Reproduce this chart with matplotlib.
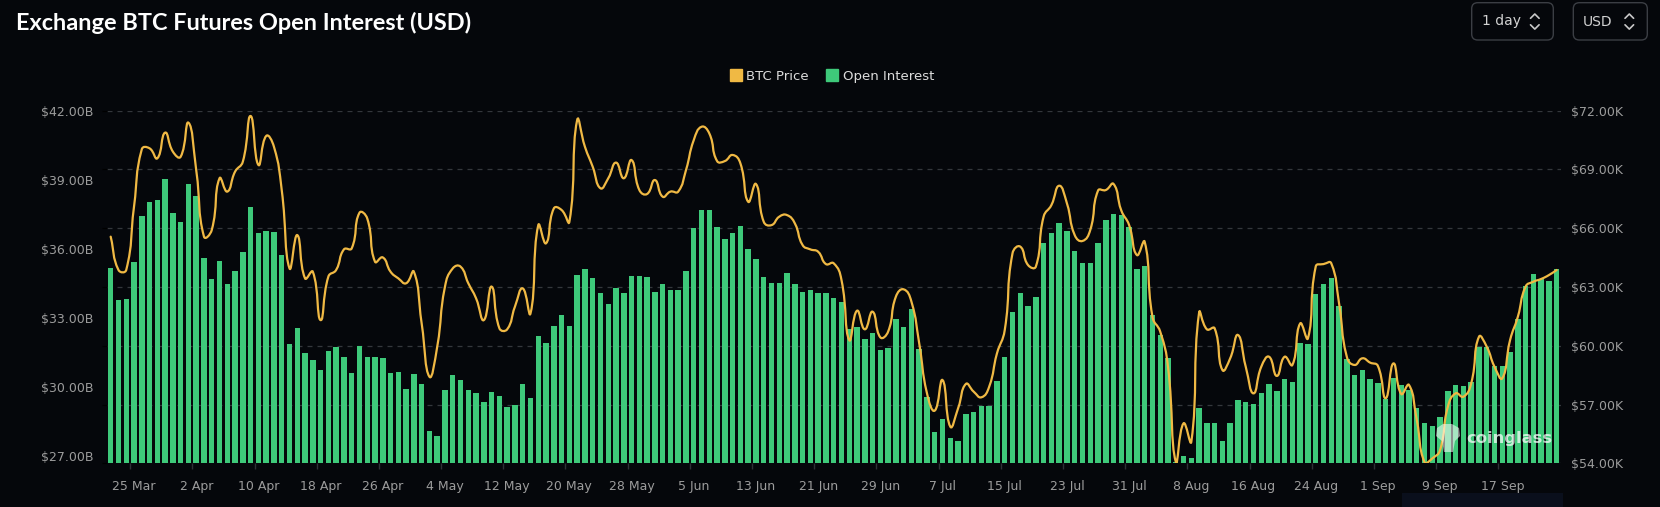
import numpy as np
import pandas as pd
import matplotlib
matplotlib.use("Agg")
import matplotlib.pyplot as plt
from matplotlib.path import Path
from matplotlib.patches import PathPatch, FancyBboxPatch, Rectangle, Polygon
from matplotlib.lines import Line2D
from matplotlib.ticker import FuncFormatter, FixedLocator

# ---------------- data ----------------
start_date = "2024-03-22"
end_date = "2024-09-24"

open_interest_b = [
    35.17, 33.80, 33.83, 35.42, 37.41, 38.03, 38.12, 39.04, 37.54, 37.18,
    38.81, 38.28, 35.62, 34.71, 35.46, 34.49, 35.03, 35.88, 37.84, 36.70,
    36.80, 36.73, 35.73, 31.87, 32.59, 31.49, 31.20, 30.74, 31.56, 31.76,
    31.30, 30.61, 31.78, 31.33, 31.32, 31.27, 30.60, 30.65, 29.93, 30.57,
    30.12, 28.08, 27.88, 29.90, 30.52, 30.31, 29.87, 29.73, 29.34, 29.79,
    29.64, 29.15, 29.25, 30.16, 29.54, 32.21, 31.94, 32.66, 33.15, 32.65,
    34.85, 35.14, 34.72, 34.10, 33.63, 34.32, 34.09, 34.81, 34.81, 34.80,
    34.15, 34.46, 34.20, 34.20, 35.06, 36.93, 37.67, 37.71, 36.96, 36.44,
    36.70, 37.01, 35.99, 35.58, 34.80, 34.52, 34.51, 34.96, 34.49, 34.15,
    34.20, 34.10, 34.10, 33.89, 33.69, 32.52, 32.60, 32.10, 32.37, 31.61,
    31.71, 32.96, 32.63, 33.38, 31.66, 29.57, 28.04, 28.62, 27.80, 27.65,
    28.86, 28.94, 29.20, 29.20, 30.29, 31.32, 33.27, 34.10, 33.53, 33.90,
    36.24, 36.70, 37.14, 36.76, 35.92, 35.40, 35.37, 36.28, 37.24, 37.50,
    37.47, 36.95, 35.11, 35.24, 33.12, 32.27, 31.26, 26.75, 27.03, 26.93,
    29.11, 28.43, 28.43, 27.68, 28.43, 29.43, 29.38, 29.27, 29.76, 30.16,
    29.83, 30.34, 30.23, 31.94, 31.88, 34.03, 34.49, 34.74, 33.54, 31.23,
    30.55, 30.74, 30.35, 30.19, 29.50, 30.41, 30.10, 29.87, 29.09, 28.43,
    28.33, 28.70, 29.83, 30.09, 30.05, 30.22, 31.74, 31.74, 30.94, 30.94,
    31.53, 32.96, 34.41, 34.93, 34.71, 34.59, 35.14,
]

btc_price_k = [
    65.57, 63.87, 63.87, 67.10, 70.03, 70.08, 69.57, 70.88, 69.91, 69.65,
    71.39, 68.97, 65.57, 65.91, 68.55, 67.87, 68.89, 69.40, 71.73, 69.23,
    70.71, 70.16, 67.95, 63.95, 65.65, 63.44, 63.78, 61.31, 63.53, 63.87,
    64.92, 64.97, 66.79, 66.50, 64.29, 64.51, 63.78, 63.44, 63.19, 63.78,
    61.14, 58.42, 59.95, 63.02, 63.95, 64.04, 63.19, 62.42, 61.31, 63.02,
    60.89, 60.84, 62.00, 62.93, 61.65, 66.16, 65.23, 67.01, 66.93, 66.33,
    71.52, 70.16, 69.14, 68.04, 68.55, 69.35, 68.55, 69.48, 67.95, 67.75,
    68.46, 67.61, 67.87, 67.87, 68.97, 70.50, 71.18, 70.84, 69.43, 69.43,
    69.74, 69.31, 67.35, 68.26, 66.33, 66.16, 66.59, 66.67, 66.25, 65.14,
    64.92, 64.80, 64.17, 64.21, 63.36, 60.29, 61.79, 60.84, 61.74, 60.43,
    60.72, 62.51, 62.88, 62.25, 60.12, 57.57, 56.69, 58.25, 55.87, 56.81,
    58.05, 57.66, 57.37, 57.91, 59.61, 60.80, 64.72, 65.06, 64.12, 64.04,
    66.59, 67.18, 68.17, 67.27, 65.65, 65.35, 65.91, 67.92, 67.95, 68.26,
    66.90, 66.16, 64.63, 65.31, 61.48, 60.72, 58.93, 54.08, 56.04, 55.10,
    61.69, 60.84, 60.89, 58.76, 59.36, 60.55, 58.93, 57.57, 58.93, 59.44,
    58.46, 59.44, 59.02, 61.14, 60.38, 64.04, 64.17, 64.21, 62.17, 59.44,
    59.02, 59.36, 59.14, 58.97, 57.32, 59.10, 57.54, 58.00, 56.21, 54.05,
    54.25, 54.68, 56.89, 57.57, 57.40, 58.08, 60.46, 59.95, 58.93, 58.34,
    60.29, 61.48, 63.02, 63.27, 63.41, 63.61, 63.87,
]

x_tick_labels = ["25 Mar", "2 Apr", "10 Apr", "18 Apr", "26 Apr", "4 May",
                 "12 May", "20 May", "28 May", "5 Jun", "13 Jun", "21 Jun",
                 "29 Jun", "7 Jul", "15 Jul", "23 Jul", "31 Jul", "8 Aug",
                 "16 Aug", "24 Aug", "1 Sep", "9 Sep", "17 Sep"]
oi_ticks = [27, 30, 33, 36, 39, 42]
price_ticks = [54, 57, 60, 63, 66, 69, 72]

title = "Exchange BTC Futures Open Interest (USD)"
series_names = ["BTC Price", "Open Interest"]

# ---------------- style ----------------
BG = "#05070b"
GREEN = "#3ec97a"
GOLD = "#f0b944"
TICK_C = "#9c9c9c"
GRID_C = "#34373c"

W, H = 1660, 507
fig = plt.figure(figsize=(W / 100, H / 100), dpi=100, facecolor=BG)

dates = pd.date_range(start_date, end_date, freq="D")
labels_all = [f"{d.day} {d.strftime('%b')}" for d in dates]
x = np.arange(len(dates))
tick_pos = [labels_all.index(t) for t in x_tick_labels]

left, right, top, bottom = 106.8, 1560.6, 110.7, 463.3
rect = [left / W, 1 - bottom / H, (right - left) / W, (bottom - top) / H]

ax = fig.add_axes(rect)
ax.set_facecolor(BG)
ax.set_xlim(-0.5, len(x) - 0.5)
ax.set_ylim(price_ticks[0], price_ticks[-1])
ax.set_yticks(price_ticks)
ax.tick_params(axis="y", left=False, labelleft=False, right=False)
ax.grid(axis="y", color=GRID_C, linestyle=(0, (4, 4)), linewidth=0.9)
for s in ax.spines.values():
    s.set_visible(False)
ax.xaxis.set_major_locator(FixedLocator(tick_pos))
ax.set_xticklabels(x_tick_labels)
ax.xaxis.set_minor_locator(FixedLocator([p - 0.5 for p in tick_pos]))
ax.tick_params(axis="x", which="major", length=0, pad=12, labelsize=9,
               labelcolor=TICK_C)
ax.tick_params(axis="x", which="minor", length=4, width=1, color="#2e3136",
               direction="out")

# bars
axb = ax.twinx()
axb.patch.set_visible(False)
axb.bar(x, open_interest_b, width=0.7, color=GREEN, zorder=2)
axb.set_ylim(26.70, 42.0)
axb.set_yticks(oi_ticks)
axb.yaxis.tick_left()
axb.yaxis.set_major_formatter(FuncFormatter(lambda v, p: f"${v:.2f}B"))
axb.tick_params(axis="y", length=0, pad=9.7, labelsize=9, labelcolor=TICK_C,
                right=False, labelright=False)
for s in axb.spines.values():
    s.set_visible(False)

# price line
axp = ax.twinx()
axp.patch.set_visible(False)
axp.set_ylim(price_ticks[0], price_ticks[-1])
axp.set_yticks(price_ticks)
axp.yaxis.set_major_formatter(FuncFormatter(lambda v, p: f"${v:.2f}K"))
axp.tick_params(axis="y", length=0, pad=7.3, labelsize=9, labelcolor=TICK_C)
for s in axp.spines.values():
    s.set_visible(False)

pts = axp.transData.transform(np.column_stack([x, btc_price_k]))
n = len(pts)
smooth = 0.5
cin, cout = [], []
for i in range(n):
    p = pts[i]
    pv = pts[i - 1] if i > 0 else p
    nx = pts[i + 1] if i < n - 1 else p
    v = nx - pv
    d0 = np.hypot(*(p - pv))
    d1 = np.hypot(*(nx - p))
    r = d1 / (d0 + d1) if (d0 + d1) > 0 else 0.5
    cin.append(p - v * smooth * (1 - r))
    cout.append(p + v * smooth * r)
verts = [pts[0]]
codes = [Path.MOVETO]
for i in range(n - 1):
    verts += [cout[i], cin[i + 1], pts[i + 1]]
    codes += [Path.CURVE4] * 3
verts = axp.transData.inverted().transform(np.array(verts))
axp.add_patch(PathPatch(Path(verts, codes), facecolor="none", edgecolor=GOLD,
                        linewidth=1.6, zorder=3, capstyle="round",
                        joinstyle="round"))

inch = fig.dpi_scale_trans

# watermark (icon + text)
icon = np.array([[1437, 428], [1443, 424], [1452, 424], [1459, 428],
                 [1460, 436], [1455, 441], [1453, 452], [1444, 452],
                 [1442, 441], [1436, 436]], dtype=float)
fig.patches.append(Polygon(np.column_stack([icon[:, 0] / 100, (H - icon[:, 1]) / 100]),
                           closed=True, transform=inch, facecolor="white",
                           alpha=0.55, edgecolor="none"))
fig.text(1509 / W, 1 - 438 / H, "coinglass", color="white", alpha=0.72,
         fontsize=11.8, fontweight="bold", ha="center", va="center",
         family="DejaVu Sans")

# title
fig.text(16 / W, 1 - 23 / H, title, color="white", fontsize=16.9,
         fontweight="bold", family="Lato", ha="left", va="center")

# legend
handles = [Line2D([], [], marker="s", linestyle="none", markersize=8.3,
                  markerfacecolor=GOLD, markeredgecolor=GOLD),
           Line2D([], [], marker="s", linestyle="none", markersize=8.3,
                  markerfacecolor=GREEN, markeredgecolor=GREEN)]
fig.legend(handles, series_names, loc="center", bbox_to_anchor=(832 / W, 1 - 76.5 / H),
           ncol=2, frameon=False, fontsize=9.5, labelcolor="#dcdcdc",
           handlelength=0.9, handletextpad=0.35, columnspacing=1.3,
           borderpad=0, borderaxespad=0)

# top-right selector buttons
def button(x0, x1, y0, y1, text, tx, chev_x):
    fig.patches.append(FancyBboxPatch((x0 / 100, (H - y1) / 100), (x1 - x0) / 100,
                                      (y1 - y0) / 100,
                                      boxstyle="round,pad=0,rounding_size=0.06",
                                      transform=inch, facecolor=BG,
                                      edgecolor="#3b3e44", linewidth=1.0))
    fig.text(tx / W, 1 - 21.5 / H, text, color="#d2d2d2", fontsize=10,
             ha="left", va="center")
    for ys in ((18.3, 14.0, 18.3), (24.8, 29.1, 24.8)):
        xs = np.array([chev_x, chev_x + 4.3, chev_x + 8.6]) / 100
        fig.add_artist(Line2D(xs, (H - np.array(ys)) / 100, transform=inch,
                              color="#c8c8c8", linewidth=1.2,
                              solid_capstyle="round"))

button(1471.7, 1553.3, 2.7, 40.0, "1 day", 1481.5, 1530.5)
button(1573.3, 1647.3, 2.7, 40.0, "USD", 1583, 1625)

# bottom-right bluish strip
fig.patches.append(Rectangle((1402 / 100, 0), (1563 - 1402) / 100, 14 / 100,
                             transform=inch, facecolor="#0a0f1c",
                             edgecolor="none"))

fig.savefig("out.png", dpi=100, facecolor=BG)
